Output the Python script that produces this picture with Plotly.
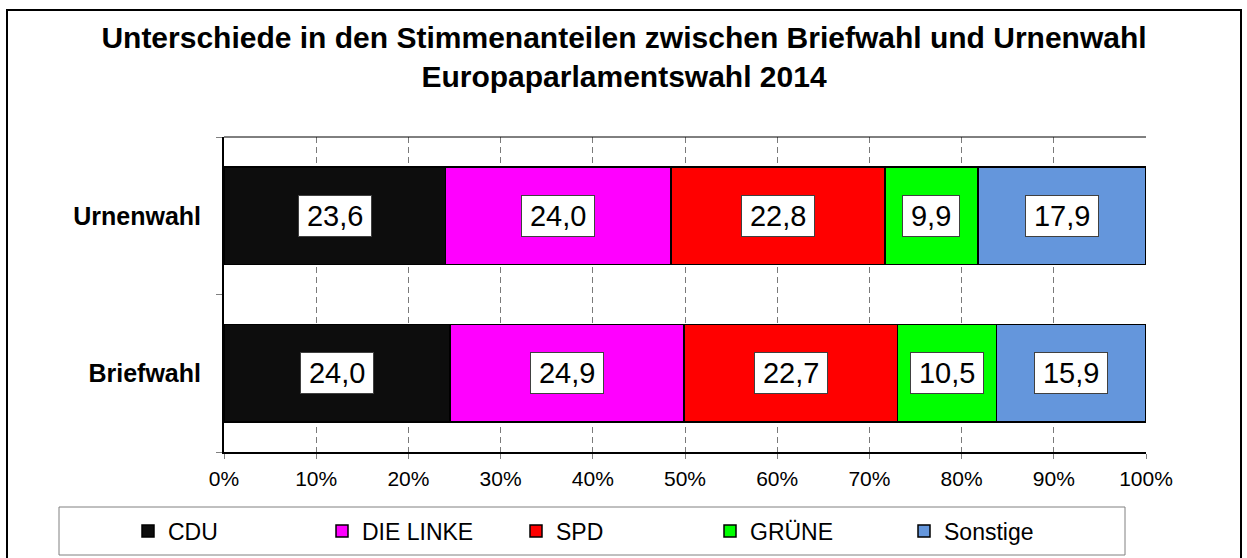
import plotly.graph_objects as go

# ---------------- data ----------------
categories = ["Briefwahl", "Urnenwahl"]          # bottom -> top
parties = ["CDU", "DIE LINKE", "SPD", "GRÜNE", "Sonstige"]
colors = ["#0D0D0D", "#FF00FF", "#FF0000", "#00FF00", "#6496DC"]
briefwahl = [24.0, 24.9, 22.7, 10.5, 15.9]
urnenwahl = [23.6, 24.0, 22.8, 9.9, 17.9]
x_ticks = [0, 10, 20, 30, 40, 50, 60, 70, 80, 90, 100]

values_by_cat = {"Briefwahl": briefwahl, "Urnenwahl": urnenwahl}

FONT = "Liberation Sans, Arial, sans-serif"

# geometry in pixels
W, H = 1247, 558
ML, MR = 40, 40                     # outer margins (paper area)
L, R, T, B = 224, 1146, 137, 452    # plot area (x axis domain)
gw = W - ML - MR


def px_x(p):
    return (p - ML) / gw


def px_y(p):
    return (B - p) / (B - T)


fig = go.Figure()
for i, party in enumerate(parties):
    fig.add_trace(go.Bar(
        name=party,
        y=categories,
        x=[values_by_cat[c][i] for c in categories],
        orientation="h",
        marker=dict(color=colors[i], line=dict(color="#000000", width=1.5)),
        hoverinfo="skip",
    ))

LABEL_SIZE = 29
annotations = []
for c in categories:
    vals = values_by_cat[c]
    tot = sum(vals)
    cum = 0.0
    for v in vals:
        pct = v / tot * 100
        mid = cum + pct / 2
        cum += pct
        txt = f"{v:.1f}".replace(".", ",")
        ndig = sum(ch.isdigit() for ch in txt)
        tw = (ndig * 0.556 + 0.278) * LABEL_SIZE + 10
        annotations.append(dict(
            x=mid, y=c, xref="x", yref="y",
            text=txt, showarrow=False,
            font=dict(family=FONT, size=LABEL_SIZE, color="#000000"),
            width=tw, height=34,
            bgcolor="#FFFFFF", bordercolor="#404040", borderwidth=1,
            borderpad=3,
        ))

shapes = [
    # outer chart frame
    dict(type="rect", xref="paper", yref="paper",
         x0=px_x(7), x1=px_x(1241), y0=px_y(10), y1=px_y(566),
         line=dict(color="#000000", width=2), fillcolor="rgba(0,0,0,0)", layer="below"),
    # legend frame
    dict(type="rect", xref="paper", yref="paper",
         x0=px_x(59), x1=px_x(1125), y0=px_y(507), y1=px_y(555),
         line=dict(color="#808080", width=1), fillcolor="rgba(0,0,0,0)"),
    # top border of plot area
    dict(type="line", xref="x domain", yref="paper", x0=0, x1=1, y0=1, y1=1,
         line=dict(color="#000000", width=1)),
]

fig.update_layout(
    width=W, height=H,
    margin=dict(l=ML, r=MR, t=T, b=H - B, pad=0, autoexpand=False),
    paper_bgcolor="#FFFFFF", plot_bgcolor="#FFFFFF",
    barmode="stack", barnorm="percent", bargap=0.378,
    title=dict(
        text="Unterschiede in den Stimmenanteilen zwischen Briefwahl und Urnenwahl<br>Europaparlamentswahl 2014",
        font=dict(family=FONT, size=30, color="#000000", weight="bold"),
        x=px_x(624), xref="paper", xanchor="center",
        y=1 - 48 / H, yref="container", yanchor="middle",
    ),
    font=dict(family=FONT, color="#000000"),
    showlegend=True,
    legend=dict(
        orientation="h", x=px_x(128), xanchor="left",
        y=px_y(531), yanchor="middle",
        entrywidth=149, entrywidthmode="pixels",
        font=dict(family=FONT, size=23, color="#000000"),
        bgcolor="rgba(0,0,0,0)", borderwidth=0,
        traceorder="normal",
    ),
    xaxis=dict(
        domain=[px_x(L), px_x(R)],
        range=[0, 100], tickmode="array", tickvals=x_ticks,
        ticktext=[f"{t}%" for t in x_ticks],
        showgrid=True, gridcolor="#7A7A7A", gridwidth=1, griddash="6px,4px",
        zeroline=False,
        showline=True, linecolor="#000000", linewidth=2,
        ticks="outside", ticklen=5, tickcolor="#808080", tickwidth=1,
        tickfont=dict(family=FONT, size=21, color="#000000"),
        ticklabelstandoff=2,
        fixedrange=True,
    ),
    yaxis=dict(
        categoryorder="array", categoryarray=categories,
        showgrid=False, zeroline=False,
        showline=True, linecolor="#000000", linewidth=2,
        ticks="outside", tickson="boundaries", ticklen=6, tickcolor="#808080", tickwidth=1,
        tickfont=dict(family=FONT, size=25, color="#000000", weight="bold"),
        ticklabelstandoff=16,
        fixedrange=True,
    ),
    annotations=annotations,
    shapes=shapes,
)

fig.write_html("out.html", config={"displayModeBar": False},
               post_script="document.body.style.margin='0';")
